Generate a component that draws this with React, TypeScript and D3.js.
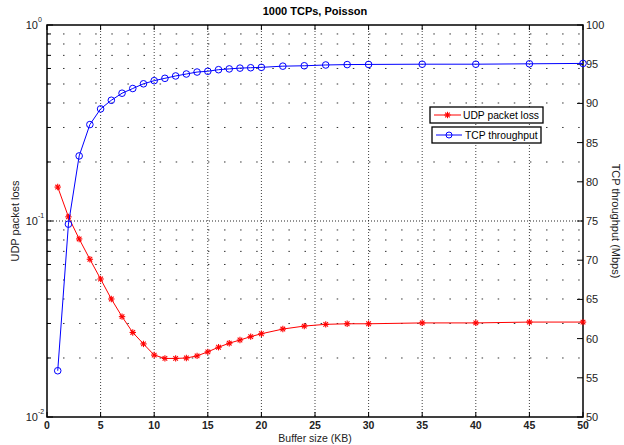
import React from "react";
import * as d3 from "d3";

const bufferSizes = [1, 2, 3, 4, 5, 6, 7, 8, 9, 10, 11, 12, 13, 14, 15, 16, 17, 18, 19, 20, 22, 24, 26, 28, 30, 35, 40, 45, 50];
const udpLoss = [0.149, 0.105, 0.081, 0.0638, 0.0506, 0.040, 0.0325, 0.027, 0.0236, 0.0207, 0.0199, 0.0199, 0.0200, 0.0205, 0.0215, 0.0227, 0.0238, 0.0247, 0.0257, 0.0266, 0.0281, 0.0291, 0.0297, 0.0299, 0.0299, 0.0302, 0.0302, 0.0305, 0.0305];
const tcpThroughput = [55.9, 74.6, 83.3, 87.3, 89.3, 90.4, 91.3, 91.9, 92.5, 92.9, 93.2, 93.5, 93.75, 94.0, 94.1, 94.3, 94.4, 94.5, 94.55, 94.6, 94.75, 94.8, 94.9, 94.95, 94.97, 95.0, 95.0, 95.05, 95.1];
const xTicks = [0, 5, 10, 15, 20, 25, 30, 35, 40, 45, 50];
const leftTicks = [0.01, 0.1, 1];
const leftTickExp = ["-2", "-1", "0"];
const rightTicks = [50, 55, 60, 65, 70, 75, 80, 85, 90, 95, 100];
const title = "1000 TCPs, Poisson";
const xLabel = "Buffer size (KB)";
const leftLabel = "UDP packet loss";
const rightLabel = "TCP throughput (Mbps)";
const legendLabels = ["UDP packet loss", "TCP throughput"];

const W = 624, H = 445;
const L = 47, R = 583, T = 25, B = 417;

export default function App() {
  const x = d3.scaleLinear().domain([0, 50]).range([L, R]);
  const yL = d3.scaleLog().domain([0.01, 1]).range([B, T]);
  const yR = d3.scaleLinear().domain([50, 100]).range([B, T]);
  const font = "'Liberation Sans', Arial, sans-serif";

  const minorVals: number[] = [];
  [0.01, 0.1].forEach((d) => {
    for (let k = 2; k <= 9; k++) minorVals.push(d * k);
  });

  const lineUdp = d3.line<number>().x((_, i) => x(bufferSizes[i])).y((d) => yL(d));
  const lineTcp = d3.line<number>().x((_, i) => x(bufferSizes[i])).y((d) => yR(d));

  const star = (cx: number, cy: number, key: string, color: string) => {
    const s = 3.2;
    const d = 2.3;
    return (
      <g key={key} stroke={color} strokeWidth={1.1}>
        <line x1={cx - s} y1={cy} x2={cx + s} y2={cy} />
        <line x1={cx} y1={cy - s} x2={cx} y2={cy + s} />
        <line x1={cx - d} y1={cy - d} x2={cx + d} y2={cy + d} />
        <line x1={cx - d} y1={cy + d} x2={cx + d} y2={cy - d} />
      </g>
    );
  };

  return (
    <svg width={W} height={H} style={{ position: "absolute", left: 0, top: 0, background: "#fff" }} fontFamily={font}>
      <rect x={0} y={0} width={W} height={H} fill="#fff" />
      {/* minor horizontal grid */}
      {minorVals.map((v, i) => (
        <line key={"mg" + i} x1={L} x2={R} y1={yL(v)} y2={yL(v)} stroke="#000" strokeWidth={1} strokeDasharray="1.5,14.6" strokeDashoffset={-16} opacity={0.8} />
      ))}
      {/* major grid */}
      {xTicks.slice(1, -1).map((t) => (
        <line key={"gx" + t} x1={x(t)} x2={x(t)} y1={T} y2={B} stroke="#000" strokeWidth={1} strokeDasharray="1,2" opacity={0.75} />
      ))}
      <line x1={L} x2={R} y1={yL(0.1)} y2={yL(0.1)} stroke="#000" strokeWidth={1} strokeDasharray="1,2" opacity={0.85} />

      {/* axes box */}
      <rect x={L} y={T} width={R - L} height={B - T} fill="none" stroke="#000" strokeWidth={1.5} />
      {/* x ticks */}
      {xTicks.map((t) => (
        <g key={"xt" + t}>
          <line x1={x(t)} x2={x(t)} y1={B} y2={B - 5} stroke="#000" />
          <line x1={x(t)} x2={x(t)} y1={T} y2={T + 5} stroke="#000" />
          <text x={x(t)} y={B + 12} fontSize={10.5} fontWeight="bold" textAnchor="middle" fill="#222">{t}</text>
        </g>
      ))}
      {/* left ticks */}
      {leftTicks.map((t, i) => (
        <g key={"lt" + t}>
          <line x1={L} x2={L + 6} y1={yL(t)} y2={yL(t)} stroke="#000" />
          <text x={L - 9} y={yL(t) + 4} fontSize={11} textAnchor="end" fill="#222">10</text>
          <text x={L - 9} y={yL(t) - 3} fontSize={7} textAnchor="start" fill="#222">{leftTickExp[i]}</text>
        </g>
      ))}
      {minorVals.map((v, i) => (
        <line key={"lm" + i} x1={L} x2={L + 4} y1={yL(v)} y2={yL(v)} stroke="#000" />
      ))}
      {/* right ticks */}
      {rightTicks.map((t) => (
        <g key={"rt" + t}>
          <line x1={R} x2={R - 6} y1={yR(t)} y2={yR(t)} stroke="#000" />
          <text x={R + 3} y={yR(t) + 4} fontSize={11} textAnchor="start" fill="#222">{t}</text>
        </g>
      ))}

      {/* series */}
      <path d={lineUdp(udpLoss) || ""} fill="none" stroke="#ff0000" strokeWidth={1} />
      {udpLoss.map((v, i) => star(x(bufferSizes[i]), yL(v), "s" + i, "#ff0000"))}
      <path d={lineTcp(tcpThroughput) || ""} fill="none" stroke="#0000ff" strokeWidth={1} />
      {tcpThroughput.map((v, i) => (
        <circle key={"c" + i} cx={x(bufferSizes[i])} cy={yR(v)} r={3.3} fill="none" stroke="#0000ff" strokeWidth={1} />
      ))}

      {/* legends */}
      <g>
        <rect x={430} y={107} width={113} height={16} fill="#fff" stroke="#000" strokeWidth={1.3} />
        <line x1={434} x2={461} y1={115} y2={115} stroke="#ff0000" />
        {star(447.5, 115, "ls", "#ff0000")}
        <text x={463} y={119} fontSize={10.3} fill="#000">{legendLabels[0]}</text>
      </g>
      <g>
        <rect x={432} y={127} width={109} height={16} fill="#fff" stroke="#000" strokeWidth={1.3} />
        <line x1={436} x2={462} y1={135} y2={135} stroke="#0000ff" />
        <circle cx={449} cy={135} r={3} fill="none" stroke="#0000ff" />
        <text x={465} y={139} fontSize={10.3} fill="#000">{legendLabels[1]}</text>
      </g>

      {/* labels */}
      <text x={(L + R) / 2} y={15} fontSize={11} fontWeight="bold" textAnchor="middle" fill="#000">{title}</text>
      <text x={(L + R) / 2} y={442} fontSize={10.5} textAnchor="middle" fill="#222">{xLabel}</text>
      <text transform={`translate(19,${(T + B) / 2}) rotate(-90)`} fontSize={11} textAnchor="middle" fill="#222">{leftLabel}</text>
      <text transform={`translate(612,${(T + B) / 2}) rotate(90)`} fontSize={11} textAnchor="middle" fill="#222">{rightLabel}</text>
    </svg>
  );
}
